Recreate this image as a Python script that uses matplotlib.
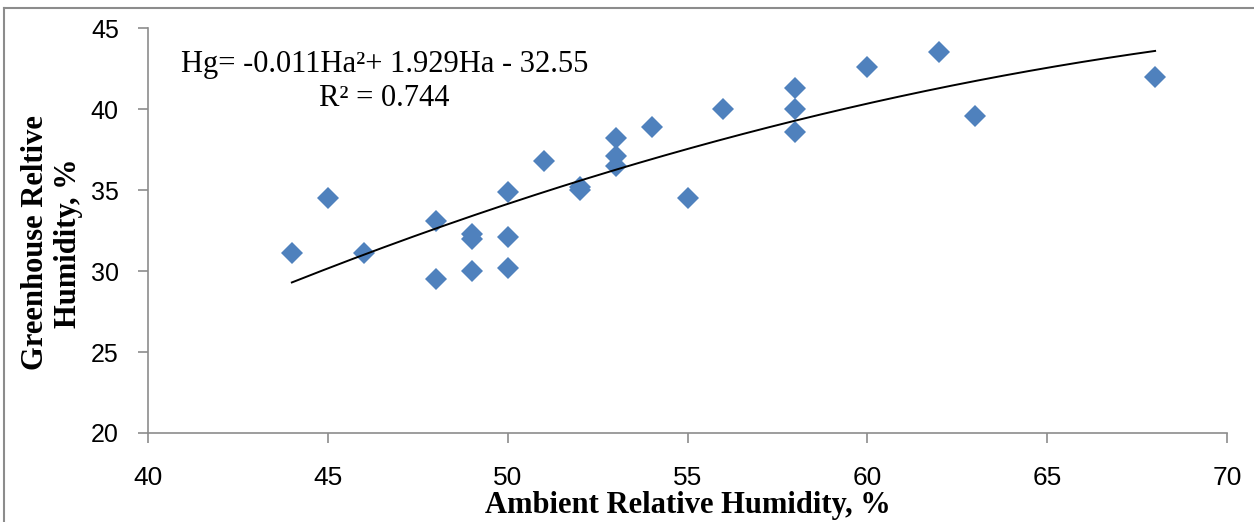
import numpy as np
import matplotlib
matplotlib.use("Agg")
import matplotlib.pyplot as plt
from matplotlib.lines import Line2D

# ambient vs greenhouse relative humidity (%)
ambient = [44, 45, 46, 48, 48, 49, 49, 49, 50, 50, 50, 51, 52, 52,
           53, 53, 53, 54, 55, 56, 58, 58, 58, 60, 62, 63, 68]
greenhouse = [31.1, 34.5, 31.1, 33.1, 29.5, 32.3, 32.0, 30.0, 34.9, 32.1, 30.2, 36.8, 35.2, 35.0,
              38.2, 37.1, 36.5, 38.9, 34.5, 40.0, 41.3, 40.0, 38.6, 42.6, 43.5, 39.6, 42.0]
x_ticks = [40, 45, 50, 55, 60, 65, 70]
y_ticks = [20, 25, 30, 35, 40, 45]
eq_text = "Hg= -0.011Ha²+ 1.929Ha - 32.55\nR² = 0.744"

fig = plt.figure(figsize=(12.54, 5.22), dpi=100)
ax = fig.add_axes([0.118, 0.1705, 0.8605, 0.7755])

ax.plot(ambient, greenhouse, linestyle='none', marker='D', markersize=11,
        color='#4F81BD', markeredgewidth=0)

# 2nd order polynomial trendline fitted to the points
coef = np.polyfit(ambient, greenhouse, 2)
xs = np.linspace(min(ambient), max(ambient), 200)
ax.plot(xs, np.polyval(coef, xs), color='black', linewidth=1.4)

ax.set_xlim(40, 70)
ax.set_ylim(20, 45)
ax.set_xticks(x_ticks)
ax.set_yticks(y_ticks)
ax.set_xticklabels([str(v) for v in x_ticks], fontfamily='Liberation Sans', fontsize=19)
ax.set_yticklabels([str(v) for v in y_ticks], fontfamily='Liberation Sans', fontsize=18)
ax.tick_params(axis='both', direction='out', length=7, color='#8c8c8c', width=1.2)
ax.tick_params(axis='x', pad=17)
ax.tick_params(axis='y', pad=14)
for s in ['top', 'right']:
    ax.spines[s].set_visible(False)
for s in ['left', 'bottom']:
    ax.spines[s].set_color('#8c8c8c')
    ax.spines[s].set_linewidth(1.2)

ax.set_xlabel("Ambient Relative Humidity, %", fontfamily='Liberation Serif',
              fontweight='bold', fontsize=22)
ax.xaxis.set_label_coords(0.5, -0.18)
ax.xaxis.label.set_va('center')
ax.set_ylabel("Greenhouse Reltive\nHumidity, %", fontfamily='Liberation Serif',
              fontweight='bold', fontsize=22, linespacing=1.2)
ax.yaxis.set_label_coords(-0.089, 0.47)
ax.yaxis.label.set_va('center')

ax.text(0.219, 0.868, eq_text, transform=ax.transAxes, ha='center', va='center',
        fontfamily='Liberation Serif', fontsize=22, linespacing=1.22)

# outer frame of the original figure (left and top edges)
fig.add_artist(Line2D([0.003, 0.003], [0, 0.985], transform=fig.transFigure,
                      color='#8c8c8c', linewidth=1.5))
fig.add_artist(Line2D([0.003, 1.0], [0.985, 0.985], transform=fig.transFigure,
                      color='#8c8c8c', linewidth=1.5))

fig.savefig("out.png", dpi=100)
